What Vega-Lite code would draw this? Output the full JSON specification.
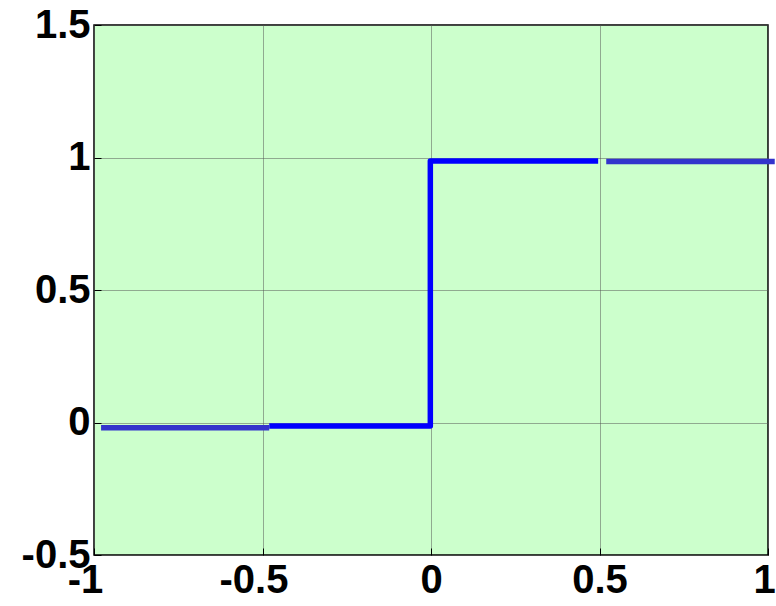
{
  "$schema": "https://vega.github.io/schema/vega-lite/v6.json",
  "width": 674,
  "height": 530,
  "autosize": {"type": "none"},
  "padding": {"left": 94, "top": 25, "right": 8, "bottom": 51},
  "background": "white",
  "config": {
    "view": {"fill": "#ccffcc", "stroke": "black", "strokeWidth": 1.5},
    "axis": {
      "labelFont": "Liberation Sans",
      "labelFontWeight": "bold",
      "labelFontSize": 40,
      "labelColor": "black",
      "labelExpr": "toString(datum.value)",
      "grid": true,
      "gridColor": "#555555",
      "gridDash": [1, 1],
      "gridWidth": 1,
      "domain": false,
      "ticks": true,
      "tickColor": "black",
      "tickSize": -7,
      "tickWidth": 1,
      "title": null
    }
  },
  "datasets": {
    "main": [
      {"x": -0.48, "y": -0.013, "seg": "B", "o": 0},
      {"x": -0.002, "y": -0.013, "seg": "B", "o": 1},
      {"x": -0.002, "y": 0.987, "seg": "B", "o": 2},
      {"x": 0.496, "y": 0.987, "seg": "B", "o": 3}
    ],
    "extra": [
      {"x": -0.979, "y": -0.02, "seg": "A", "o": 0},
      {"x": -0.48, "y": -0.02, "seg": "A", "o": 1},
      {"x": 0.52, "y": 0.985, "seg": "C", "o": 0},
      {"x": 1.02, "y": 0.985, "seg": "C", "o": 1}
    ]
  },
  "encoding": {
    "x": {
      "field": "x", "type": "quantitative",
      "scale": {"domain": [-1, 1], "nice": false, "zero": false},
      "axis": {
        "values": [-1, -0.5, 0, 0.5, 1],
        "labelPadding": 12,
        "labelFlush": false,
        "labelOverlap": false,
        "labelOffset": {"condition": [{"test": "datum.value < 0", "value": -9}, {"test": "datum.value == 1", "value": -4}], "value": 0}
      }
    },
    "y": {
      "field": "y", "type": "quantitative",
      "scale": {"domain": [-0.5, 1.5], "nice": false, "zero": false},
      "axis": {
        "values": [-0.5, 0, 0.5, 1, 1.5],
        "labelPadding": 11,
        "labelFlush": false,
        "labelOverlap": false
      }
    },
    "order": {"field": "o", "type": "quantitative"}
  },
  "layer": [
    {
      "data": {"name": "main"},
      "mark": {"type": "line", "color": "#0000ff", "strokeWidth": 5.5, "strokeJoin": "round", "strokeCap": "butt"}
    },
    {
      "data": {"name": "extra"},
      "mark": {"type": "line", "color": "#3333cc", "strokeWidth": 5.5, "strokeCap": "butt"},
      "encoding": {"detail": {"field": "seg"}}
    }
  ]
}
